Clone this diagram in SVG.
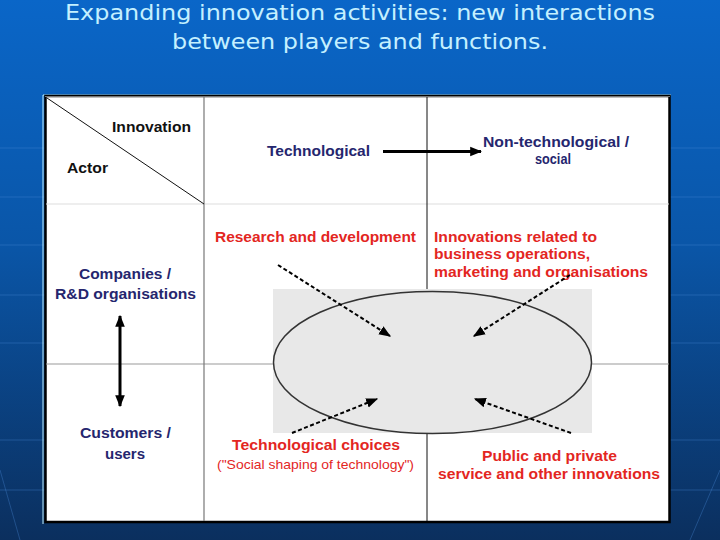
<svg xmlns="http://www.w3.org/2000/svg" width="720" height="540" viewBox="0 0 720 540">
<defs>
<linearGradient id="bg" x1="0" y1="0" x2="0" y2="1">
<stop offset="0" stop-color="#0a66c8"/>
<stop offset="0.45" stop-color="#0a56a8"/>
<stop offset="1" stop-color="#0b2f5e"/>
</linearGradient>
<marker id="ah" viewBox="0 0 10 10" refX="9" refY="5" markerWidth="4" markerHeight="4" orient="auto-start-reverse" markerUnits="strokeWidth">
<path d="M0,1 L10,5 L0,9 Z" fill="#000"/>
</marker>
<marker id="ahd" viewBox="0 0 10 10" refX="9" refY="5" markerWidth="6" markerHeight="6" orient="auto" markerUnits="strokeWidth">
<path d="M0,1 L10,5 L0,9 Z" fill="#000"/>
</marker>
</defs>
<style>
.title{font-family:"DejaVu Sans","Liberation Sans",sans-serif;font-size:21px;fill:#c4f0ff;text-anchor:middle}
.t{font-family:"Liberation Sans",Arial,sans-serif;font-weight:bold;font-size:14px}
.blk{fill:#111}
.nav{fill:#25266e}
.red{fill:#e3261f}
.mid{text-anchor:middle}
.bgl{stroke:#4a8ad8;stroke-width:1;opacity:0.35}
.dash{stroke:#000;stroke-width:2;stroke-dasharray:4 2.5;fill:none}
</style>
<rect width="720" height="540" fill="url(#bg)"/>
<g id="background-lines">
<line class="bgl" x1="0" y1="148" x2="720" y2="148"/>
<line class="bgl" x1="0" y1="197" x2="720" y2="197"/>
<line class="bgl" x1="0" y1="245" x2="720" y2="245"/>
<line class="bgl" x1="0" y1="295" x2="720" y2="295"/>
<line class="bgl" x1="0" y1="343" x2="720" y2="343"/>
<line class="bgl" x1="0" y1="440" x2="720" y2="440"/>
<line class="bgl" x1="0" y1="490" x2="720" y2="490"/>
<line class="bgl" x1="0" y1="470" x2="20" y2="540"/>
<line class="bgl" x1="690" y1="540" x2="720" y2="470"/>
</g>
<text class="title" x="360" y="20" textLength="590" lengthAdjust="spacingAndGlyphs">Expanding innovation activities: new interactions</text>
<text class="title" x="360" y="49" textLength="376" lengthAdjust="spacingAndGlyphs">between players and functions.</text>
<g id="table">
<line x1="43" y1="95" x2="671" y2="95" stroke="#bff0ff" stroke-width="1"/>
<line x1="43" y1="95" x2="43" y2="524" stroke="#bff0ff" stroke-width="1"/>
<rect x="45.5" y="96" width="624" height="426" fill="#fff" stroke="#000" stroke-width="2.5"/>
<line x1="45" y1="96.5" x2="670" y2="96.5" stroke="#777" stroke-width="1"/>
<line x1="46" y1="204" x2="669" y2="204" stroke="#ddd" stroke-width="1"/>
<line x1="46" y1="364" x2="669" y2="364" stroke="#999" stroke-width="1"/>
<line x1="204" y1="97" x2="204" y2="521" stroke="#777" stroke-width="1.2"/>
<line x1="427" y1="97" x2="427" y2="521" stroke="#111" stroke-width="1"/>
<line x1="47" y1="98" x2="204" y2="204" stroke="#111" stroke-width="1"/>
</g>
<g id="ellipse-zone">
<rect x="273" y="289" width="319" height="144" fill="#e8e8e8"/>
<ellipse cx="432.5" cy="362.5" rx="159" ry="71" fill="none" stroke="#333" stroke-width="1.5"/>
</g>
<g id="header-innovation"><text class="t blk" x="112" y="132" textLength="79" lengthAdjust="spacingAndGlyphs">Innovation</text></g>
<g id="header-actor"><text class="t blk" x="67" y="173" textLength="41" lengthAdjust="spacingAndGlyphs">Actor</text></g>
<g id="col-technological"><text class="t nav" x="267" y="156" textLength="103" lengthAdjust="spacingAndGlyphs">Technological</text></g>
<g id="col-nontechnological">
<text class="t nav" x="483" y="147" textLength="146" lengthAdjust="spacingAndGlyphs">Non-technological /</text>
<text class="t nav" x="535" y="164" textLength="36" lengthAdjust="spacingAndGlyphs">social</text>
</g>
<g id="row-companies">
<text class="t nav" x="79" y="279" textLength="92" lengthAdjust="spacingAndGlyphs">Companies /</text>
<text class="t nav" x="55" y="299" textLength="141" lengthAdjust="spacingAndGlyphs">R&amp;D organisations</text>
</g>
<g id="row-customers">
<text class="t nav" x="80" y="438" textLength="91" lengthAdjust="spacingAndGlyphs">Customers /</text>
<text class="t nav" x="105" y="459" textLength="40" lengthAdjust="spacingAndGlyphs">users</text>
</g>
<g id="cell-rd"><text class="t red" x="215" y="242" textLength="201" lengthAdjust="spacingAndGlyphs">Research and development</text></g>
<g id="cell-business">
<text class="t red" x="434" y="242" textLength="163" lengthAdjust="spacingAndGlyphs">Innovations related to</text>
<text class="t red" x="434" y="259" textLength="156" lengthAdjust="spacingAndGlyphs">business operations,</text>
<text class="t red" x="434" y="277" textLength="214" lengthAdjust="spacingAndGlyphs">marketing and organisations</text>
</g>
<g id="cell-choices">
<text class="t red" x="232" y="450" textLength="168" lengthAdjust="spacingAndGlyphs">Technological choices</text>
<text class="red" x="217" y="469" font-family="Liberation Sans, Arial, sans-serif" font-size="13" textLength="197" lengthAdjust="spacingAndGlyphs">("Social shaping of technology")</text>
</g>
<g id="cell-public">
<text class="t red" x="482" y="461" textLength="135" lengthAdjust="spacingAndGlyphs">Public and private</text>
<text class="t red" x="438" y="479" textLength="222" lengthAdjust="spacingAndGlyphs">service and other innovations</text>
</g>
<g id="connectors">
<line x1="383" y1="151.5" x2="481" y2="151.5" stroke="#000" stroke-width="3" marker-end="url(#ah)"/>
<line x1="120" y1="316" x2="120" y2="406" stroke="#000" stroke-width="3" marker-start="url(#ah)" marker-end="url(#ah)"/>
<line class="dash" x1="278" y1="265" x2="390" y2="336" marker-end="url(#ahd)"/>
<line class="dash" x1="570" y1="275" x2="474" y2="336" marker-end="url(#ahd)"/>
<line class="dash" x1="292" y1="433" x2="377" y2="399" marker-end="url(#ahd)"/>
<line class="dash" x1="571" y1="433" x2="475" y2="399" marker-end="url(#ahd)"/>
</g>
</svg>
